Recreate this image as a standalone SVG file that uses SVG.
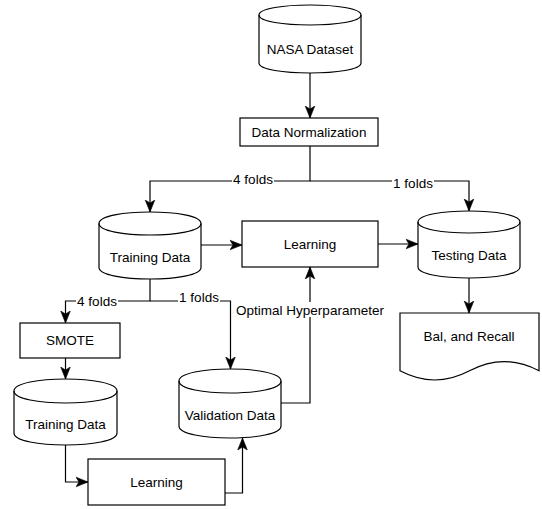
<svg xmlns="http://www.w3.org/2000/svg" width="542" height="509" viewBox="0 0 542 509">
<style>
.s{fill:#fff;stroke:#000;stroke-width:1.2}
.c{fill:none;stroke:#000;stroke-width:1.2}
text{font-family:"Liberation Sans",Arial,sans-serif;font-size:13.5px;fill:#000;text-anchor:middle}
.lb{fill:#fff;stroke:none}
</style>
<defs>
<marker id="a" markerUnits="userSpaceOnUse" markerWidth="12" markerHeight="12" viewBox="0 0 10 10" refX="10" refY="5" orient="auto">
<path d="M0,1 L10,5 L0,9 L2.5,5 Z" fill="#000" stroke="#000" stroke-width="0.5"/>
</marker>
</defs>
<g id="connectors">
<path class="c" d="M310,73 V118" marker-end="url(#a)"/>
<path class="c" d="M310,146 V181 H150 V212" marker-end="url(#a)"/>
<path class="c" d="M310,181 H469 V211" marker-end="url(#a)"/>
<path class="c" d="M201,245 H242" marker-end="url(#a)"/>
<path class="c" d="M378,244 H418" marker-end="url(#a)"/>
<path class="c" d="M469,278 V313" marker-end="url(#a)"/>
<path class="c" d="M150,279 V301 H65.5 V323" marker-end="url(#a)"/>
<path class="c" d="M150,301 H230.5 V369" marker-end="url(#a)"/>
<path class="c" d="M65.5,358 V379" marker-end="url(#a)"/>
<path class="c" d="M65.5,445 V482 H88" marker-end="url(#a)"/>
<path class="c" d="M225,493 H242.5 V438" marker-end="url(#a)"/>
<path class="c" d="M281,403 H310 V267" marker-end="url(#a)"/>
<rect class="lb" x="232" y="174" width="42" height="13"/>
<text x="253" y="184">4 folds</text>
<rect class="lb" x="392" y="176" width="42" height="13"/>
<text x="413" y="188">1 folds</text>
<rect class="lb" x="76" y="294" width="42" height="13"/>
<text x="97" y="306">4 folds</text>
<rect class="lb" x="178" y="290" width="42" height="13"/>
<text x="199" y="302">1 folds</text>
<rect class="lb" x="233" y="302" width="154" height="15"/>
<text x="310" y="315">Optimal Hyperparameter</text>
</g>
<g id="nasa">
<path class="s" d="M259,15 C259,1.67 361,1.67 361,15 L361,63 C361,76.33 259,76.33 259,63 Z"/>
<path class="c" d="M259,15 C259,28.33 361,28.33 361,15"/>
<text x="310" y="54">NASA Dataset</text>
</g>
<g id="normalization">
<rect class="s" x="240" y="118" width="138" height="28"/>
<text x="309" y="137">Data Normalization</text>
</g>
<g id="training1">
<path class="s" d="M99,223.5 C99,208.17 201,208.17 201,223.5 L201,267.5 C201,282.83 99,282.83 99,267.5 Z"/>
<path class="c" d="M99,223.5 C99,238.83 201,238.83 201,223.5"/>
<text x="150" y="262">Training Data</text>
</g>
<g id="learning1">
<rect class="s" x="242" y="221" width="136" height="46"/>
<text x="310" y="249">Learning</text>
</g>
<g id="testing">
<path class="s" d="M418,222 C418,207.33 520,207.33 520,222 L520,267 C520,281.67 418,281.67 418,267 Z"/>
<path class="c" d="M418,222 C418,236.67 520,236.67 520,222"/>
<text x="469" y="260">Testing Data</text>
</g>
<g id="metrics">
<path class="s" d="M400,313 H539 V370.8 Q504.25,352.4 469.5,370.8 Q434.75,389.2 400,370.8 Z"/>
<text x="469" y="341">Bal, and Recall</text>
</g>
<g id="smote">
<rect class="s" x="20" y="323" width="100" height="35"/>
<text x="70" y="345">SMOTE</text>
</g>
<g id="training2">
<path class="s" d="M14,391 C14,375 117,375 117,391 L117,433 C117,449 14,449 14,433 Z"/>
<path class="c" d="M14,391 C14,407 117,407 117,391"/>
<text x="65.5" y="429">Training Data</text>
</g>
<g id="validation">
<path class="s" d="M179,381 C179,365 281,365 281,381 L281,426 C281,442 179,442 179,426 Z"/>
<path class="c" d="M179,381 C179,397 281,397 281,381"/>
<text x="230" y="420">Validation Data</text>
</g>
<g id="learning2">
<rect class="s" x="88" y="459" width="137" height="46"/>
<text x="156.5" y="487">Learning</text>
</g>
</svg>
